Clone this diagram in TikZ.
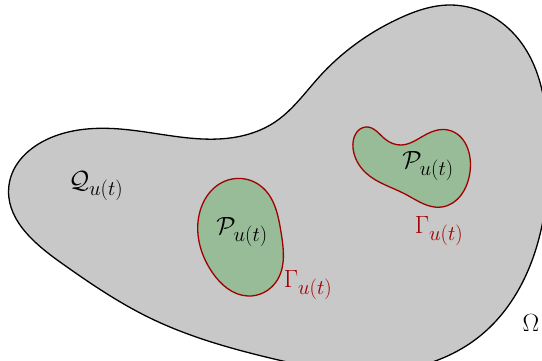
\documentclass[tikz,border=0pt]{standalone}
\usetikzlibrary{hobby}
\begin{document}
\begin{tikzpicture}[x=1pt,y=-1pt,
  outer/.style={draw=black,line width=1.3pt,fill=regiongray},
  blob/.style={draw=blobred,line width=1.3pt,fill=blobgreen},
  lbl/.style={font=\Huge,inner sep=0pt},
  gam/.style={lbl,text=blobred}]
\definecolor{regiongray}{RGB}{200,200,200}
\definecolor{blobgreen}{RGB}{152,187,152}
\definecolor{blobred}{RGB}{160,0,0}
\useasboundingbox (0,0) rectangle (542,360);
\begin{scope}
\clip (0,0) rectangle (542,360);
\draw[outer,use Hobby shortcut,closed=true]
 (9,185) .. (50,138) .. (120,129) .. (230,138) .. (275,122) .. (320,76)
 .. (400,18) .. (450,5) .. (515,35) .. (548,140) .. (535,252)
 .. (480,336) .. (380,372) .. (270,358) .. (150,318) .. (60,262);
\end{scope}
\draw[blob,use Hobby shortcut,closed=true]
 (198,222) .. (228,180) .. (262,187) .. (281,232) .. (276,282)
 .. (248,296) .. (212,272);
\draw[blob,use Hobby shortcut,closed=true]
 (353,148) .. (366,127) .. (385,139) .. (401,145) .. (425,135) .. (448,130)
 .. (470,172) .. (442,207) .. (405,194) .. (366,173);
\node[lbl] (Q) at (96,186) {$\mathcal{Q}_{u(t)}$};
\node[lbl] (P1) at (242,232) {$\mathcal{P}_{u(t)}$};
\node[lbl] (P2) at (428,166) {$\mathcal{P}_{u(t)}$};
\node[gam] (G1) at (308,285) {$\Gamma_{u(t)}$};
\node[gam] (G2) at (439,231) {$\Gamma_{u(t)}$};
\node[lbl] (Om) at (531,323) {$\Omega$};
\end{tikzpicture}
\end{document}
